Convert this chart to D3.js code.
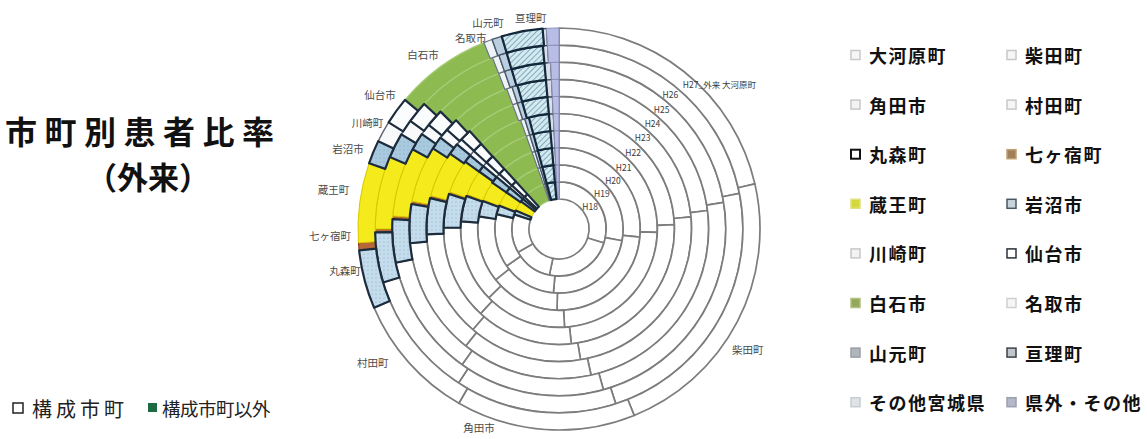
<!DOCTYPE html>
<html>
<head>
<meta charset="utf-8">
<script src="https://cdn.jsdelivr.net/npm/d3@7"></script>
<style>
  body { margin: 0; background: #fff; }
  text { font-family: "Noto Sans CJK JP", "Noto Sans", sans-serif; }
</style>
</head>
<body>
<script>
// chart data: share of outpatients (%) by municipality, one ring per year
const cities = ['大河原町', '柴田町', '角田市', '村田町', '丸森町', '七ヶ宿町', '蔵王町', '岩沼市',
                '川崎町', '仙台市', '白石市', '名取市', '山元町', '亘理町', 'その他宮城県', '県外・その他'];
const years = ['H18', 'H19', 'H20', 'H21', 'H22', 'H23', 'H24', 'H25', 'H26', 'H27'];

const H18 = [30.0, 23.6, 13.6, 13.3, 1.4, 0.3, 3.3, 1.1, 0.8, 1.4, 6.4, 0.6, 0.6, 2.8, 0.6, 0.8];
const H19 = [28.1, 23.6, 13.9, 13.6, 2.2, 0.3, 3.5, 1.4, 0.8, 1.4, 6.4, 0.6, 0.6, 2.8, 0.6, 0.8];
const H20 = [26.7, 23.9, 13.9, 13.3, 3.1, 0.3, 3.8, 1.4, 0.8, 1.4, 6.4, 0.6, 0.6, 2.8, 0.6, 0.8];
const H21 = [25.6, 23.6, 13.6, 13.6, 4.2, 0.3, 4.2, 1.1, 0.8, 1.4, 6.4, 0.6, 0.6, 2.8, 0.6, 0.8];
const H22 = [24.4, 23.9, 13.6, 13.3, 4.7, 0.3, 4.7, 1.1, 0.8, 1.4, 6.4, 0.6, 0.6, 2.8, 0.6, 0.8];
const H23 = [23.6, 23.9, 13.9, 13.1, 4.4, 0.3, 5.6, 1.4, 0.8, 1.4, 6.1, 0.6, 0.6, 3.1, 0.6, 0.8];
const H24 = [23.1, 23.6, 14.2, 12.8, 4.2, 0.3, 6.1, 1.4, 1.1, 1.4, 6.4, 0.6, 0.6, 3.1, 0.6, 0.8];
const H25 = [22.5, 23.3, 14.2, 11.9, 4.2, 0.3, 6.7, 1.7, 1.1, 1.7, 6.7, 0.6, 0.7, 3.2, 0.6, 0.8];
const H26 = [21.9, 23.1, 14.2, 11.1, 4.4, 0.3, 6.4, 2.2, 1.4, 1.9, 7.2, 0.6, 0.7, 3.2, 0.4, 1.0];
const H27 = [21.4, 22.5, 14.4, 10.3, 4.7, 0.6, 6.4, 1.9, 1.7, 2.2, 7.8, 0.7, 0.8, 3.3, 0.3, 1.0];

const yearRows = [H18, H19, H20, H21, H22, H23, H24, H25, H26, H27];

// styling per municipality (fill, stroke, stroke width, legend key colours)
const sliceFill   = ['#fff', '#fff', '#fff', '#fff', 'url(#dotBlue)', '#b5673a', '#f4ea1c', 'url(#dotBlue2)',
                     '#f7f9fb', '#fbfcfd', '#8dbb52', '#eef3f7', '#bccfe0', 'url(#hatch)', '#d9e0e8', '#b8bde6'];
const sliceStroke = ['#7c7c7c', '#7c7c7c', '#7c7c7c', '#7c7c7c', '#1c2c3c', '#8a2c10', '#d8c800', '#1c2c3c',
                     '#5a6270', '#1c2c3c', '#a7cd78', '#6a7480', '#485868', '#13283a', '#3a4656', '#8a90b8'];
const sliceWidth  = [1.7, 1.7, 1.7, 1.7, 2.2, 1, 1, 2.2, 1.4, 2.2, 1.2, 1.2, 1.4, 2.2, 1.2, 1];
const keyFill     = ['#f6f6f6', '#f6f6f6', '#f3f3f3', '#f6f6f6', '#fff', '#a08058', '#d4d83a', '#c8d4dc',
                     '#f3f3f3', '#fff', '#94a85a', '#f6f6f6', '#b0b6bc', '#c0c6cc', '#e0e3e6', '#b4b8c8'];
const keyStroke   = ['#c8c8c8', '#c8c8c8', '#c8c8c8', '#c8c8c8', '#111', '#c0a070', '#e0e080', '#4a5660',
                     '#c8c8c8', '#2a3238', '#b0c080', '#d0d0d0', '#9aa0a6', '#3a4248', '#c8ccd0', '#9aa0b0'];

// outer label placement relative to the outer ring slice middle: [angle shift in degrees, radius]
const labelNudge = {
  '柴田町': [5, 224], '角田市': [18, 214], '村田町': [6, 229], '丸森町': [3.5, 218],
  '七ヶ宿町': [3.5, 229], '蔵王町': [2.5, 229], '岩沼市': [-1.5, 226], '川崎町': [0, 219],
  '仙台市': [1, 224], '白石市': [-2, 221], '名取市': [-4, 211], '山元町': [-1, 218], '亘理町': [3, 213]
};

const width = 1147, height = 439;
const cx = 559, cy = 229, r0 = 30, r1 = 201;

const svg = d3.select('body').append('svg')
  .attr('width', width)
  .attr('height', height);

// patterns
const defs = svg.append('defs');
const hatch = defs.append('pattern').attr('id', 'hatch')
  .attr('patternUnits', 'userSpaceOnUse').attr('width', 4).attr('height', 4)
  .attr('patternTransform', 'rotate(45)');
hatch.append('rect').attr('width', 4).attr('height', 4).attr('fill', '#d2ebf2');
hatch.append('line').attr('x1', 0).attr('y1', 0).attr('x2', 0).attr('y2', 4)
  .attr('stroke', '#5f8494').attr('stroke-width', 1.3);

[['dotBlue', '#c4dcec'], ['dotBlue2', '#a9c9de']].forEach(([id, base]) => {
  const p = defs.append('pattern').attr('id', id)
    .attr('patternUnits', 'userSpaceOnUse').attr('width', 4).attr('height', 4);
  p.append('rect').attr('width', 4).attr('height', 4).attr('fill', base);
  p.append('circle').attr('cx', 1).attr('cy', 1).attr('r', 0.6).attr('fill', '#7fa6c0');
});

// rings
const ring = d3.scaleBand().domain(years).range([r0, r1]);
const pie = d3.pie().sort(null).value(d => d);

const g = svg.append('g').attr('transform', `translate(${cx},${cy})`);

const slices = [];
yearRows.forEach((row, i) => {
  const arcs = pie(row);
  const arc = d3.arc()
    .innerRadius(ring(years[i]))
    .outerRadius(ring(years[i]) + ring.bandwidth());
  arcs.forEach((a, j) => slices.push({ a, j, i, arc }));
});

// dark outlined slices last so their outlines sit on top
const order = j => (sliceWidth[j] > 2 ? 1 : 0);
slices.sort((p, q) => order(p.j) - order(q.j));

g.selectAll('path.slice')
  .data(slices)
  .enter().append('path')
  .attr('class', 'slice')
  .attr('d', d => d.arc(d.a))
  .attr('fill', d => sliceFill[d.j])
  .attr('stroke', d => sliceStroke[d.j])
  .attr('stroke-width', d => sliceWidth[d.j])
  .attr('stroke-linejoin', 'round');

// year labels at the middle of the 大河原町 slice of each ring
yearRows.forEach((row, i) => {
  const a = pie(row)[0];
  const arc = d3.arc()
    .innerRadius(ring(years[i]))
    .outerRadius(ring(years[i]) + ring.bandwidth());
  const [x, y] = arc.centroid(a);
  const last = i === years.length - 1;
  g.append('text')
    .attr('x', last ? x + 4 : x)
    .attr('y', last ? y + 6 : y)
    .attr('text-anchor', last ? 'start' : 'middle')
    .attr('dominant-baseline', 'central')
    .attr('font-size', 8.5)
    .attr('fill', '#3a3a3a')
    .text(last ? years[i] + '_外来 ' + cities[0] : years[i]);
});

// category labels around the outer ring
const outer = pie(H27);
outer.forEach((a, j) => {
  const nudge = labelNudge[cities[j]];
  if (!nudge) return;
  const ang = (a.startAngle + a.endAngle) / 2 + nudge[0] * Math.PI / 180;
  g.append('text')
    .attr('x', Math.sin(ang) * nudge[1])
    .attr('y', -Math.cos(ang) * nudge[1])
    .attr('text-anchor', 'middle')
    .attr('dominant-baseline', 'central')
    .attr('font-size', 10.5)
    .attr('fill', '#4a4a4a')
    .text(cities[j]);
});

// title
svg.append('text')
  .attr('x', 5).attr('y', 144)
  .attr('font-size', 32).attr('font-weight', 700)
  .attr('letter-spacing', 7.5)
  .attr('fill', '#111')
  .text('市町別患者比率');
svg.append('text')
  .attr('x', 148).attr('y', 189)
  .attr('text-anchor', 'middle')
  .attr('font-size', 31).attr('font-weight', 700)
  .attr('fill', '#111')
  .text('（外来）');

// right legend, two columns
const legend = svg.append('g');
cities.forEach((c, j) => {
  const col = j % 2, row = Math.floor(j / 2);
  const lx = col === 0 ? 851 : 1007;
  const ly = 55 + row * 49.6;
  legend.append('rect')
    .attr('x', lx).attr('y', ly - 4.5)
    .attr('width', 9).attr('height', 9)
    .attr('fill', keyFill[j])
    .attr('stroke', keyStroke[j])
    .attr('stroke-width', j === 4 ? 2 : 1.5);
  legend.append('text')
    .attr('x', lx + 18).attr('y', ly)
    .attr('dominant-baseline', 'central')
    .attr('font-size', 18).attr('font-weight', 700)
    .attr('letter-spacing', 1.5)
    .attr('fill', '#111')
    .text(c);
});

// bottom-left key
svg.append('rect')
  .attr('x', 13).attr('y', 403).attr('width', 10).attr('height', 10)
  .attr('fill', '#fff').attr('stroke', '#222').attr('stroke-width', 1.5);
svg.append('text')
  .attr('x', 32).attr('y', 408)
  .attr('dominant-baseline', 'central')
  .attr('font-size', 20).attr('letter-spacing', 4)
  .attr('fill', '#222')
  .text('構成市町');
svg.append('rect')
  .attr('x', 148).attr('y', 403).attr('width', 9).attr('height', 9)
  .attr('fill', '#1d6b43');
svg.append('text')
  .attr('x', 162).attr('y', 408)
  .attr('dominant-baseline', 'central')
  .attr('font-size', 18.5).attr('letter-spacing', -0.5)
  .attr('fill', '#222')
  .text('構成市町以外');
</script>
</body>
</html>
